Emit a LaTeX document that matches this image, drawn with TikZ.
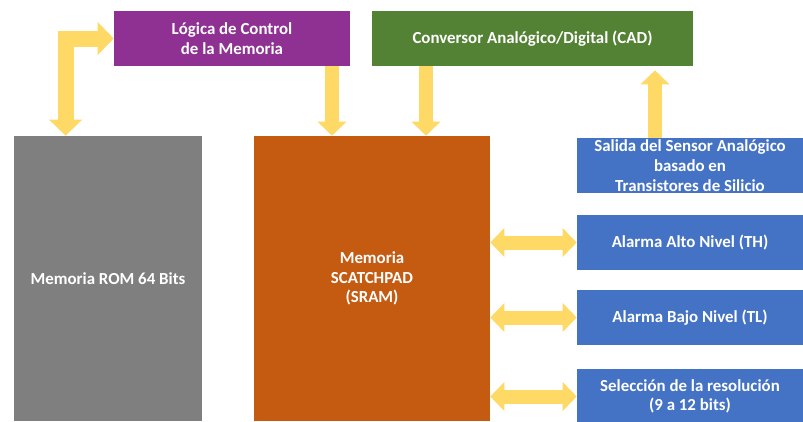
\documentclass[tikz,border=0pt]{standalone}
\usepackage{fontspec}
\setmainfont{Carlito}
\usetikzlibrary{arrows.meta}

\definecolor{ctlpurple}{RGB}{142,49,146}
\definecolor{cadgreen}{RGB}{84,130,53}
\definecolor{romgray}{RGB}{127,127,127}
\definecolor{sramorange}{RGB}{197,90,17}
\definecolor{regblue}{RGB}{68,114,196}
\definecolor{busyellow}{RGB}{255,217,102}

\begin{document}
\begin{tikzpicture}[
  blk/.style={rectangle, text=white, align=center, inner sep=0pt,
              font=\bfseries\fontsize{12}{14}\selectfont,
              minimum height=1.375cm},
  reg/.style={blk, fill=regblue, minimum width=5.65cm},
  fat/.style={draw=busyellow, line width=0.35cm,
              -{Triangle[length=0.35cm, width=0.7cm]}},
  dbl/.style={draw=busyellow, line width=0.35cm,
              {Triangle[length=0.35cm, width=0.7cm]}-{Triangle[length=0.35cm, width=0.7cm]}}
]
  \useasboundingbox (0,0) rectangle (20.075,-10.525);
  % top row: control logic and ADC
  \node[blk, fill=ctlpurple, minimum width=5.9cm] (lgc) at (5.8,-0.9625)
    {Lógica de Control\\de la Memoria};
  \node[blk, fill=cadgreen, minimum width=8.025cm] (cad) at (13.3125,-0.9625)
    {Conversor Analógico/Digital (CAD)};
  % memories
  \node[blk, fill=romgray, minimum width=4.7cm, minimum height=7.125cm] (rom)
    at (2.7,-6.9625) {Memoria ROM 64 Bits};
  \node[blk, fill=sramorange, minimum width=5.9cm, minimum height=7.125cm] (sram)
    at (9.3,-6.9625) {Memoria\\SCATCHPAD\\(SRAM)};
  % registers on the right
  \node[reg] (snr) at (17.25,-4.1375)
    {Salida del Sensor Analógico\\basado en\\Transistores de Silicio};
  \node[reg] (th) at (17.25,-6.0625) {Alarma Alto Nivel (TH)};
  \node[reg] (tl) at (17.25,-7.9375) {Alarma Bajo Nivel (TL)};
  \node[reg] (res) at (17.25,-9.9125) {Selección de la resolución\\(9 a 12 bits)};

  \coordinate (x0) at (1.64,0);
  \coordinate (x1) at (8.3,0);
  \coordinate (x2) at (10.65,0);
  \coordinate (x3) at (16.375,0);
  \draw[dbl, line width=0.4cm,
        {Triangle[length=0.4cm, width=0.8cm]}-{Triangle[length=0.4cm, width=0.8cm]}]
    (x0 |- rom.north) |- (lgc.west);
  \draw[fat] (x1 |- lgc.south) -- (x1 |- sram.north);
  \draw[fat] (x2 |- cad.south) -- (x2 |- sram.north);
  \draw[fat] (x3 |- snr.north) -- ([yshift=-0.1cm]x3 |- cad.south);
  \foreach \r in {th,tl,res}
    \draw[dbl] (\r.west) -- (\r.west -| sram.east);
\end{tikzpicture}
\end{document}
